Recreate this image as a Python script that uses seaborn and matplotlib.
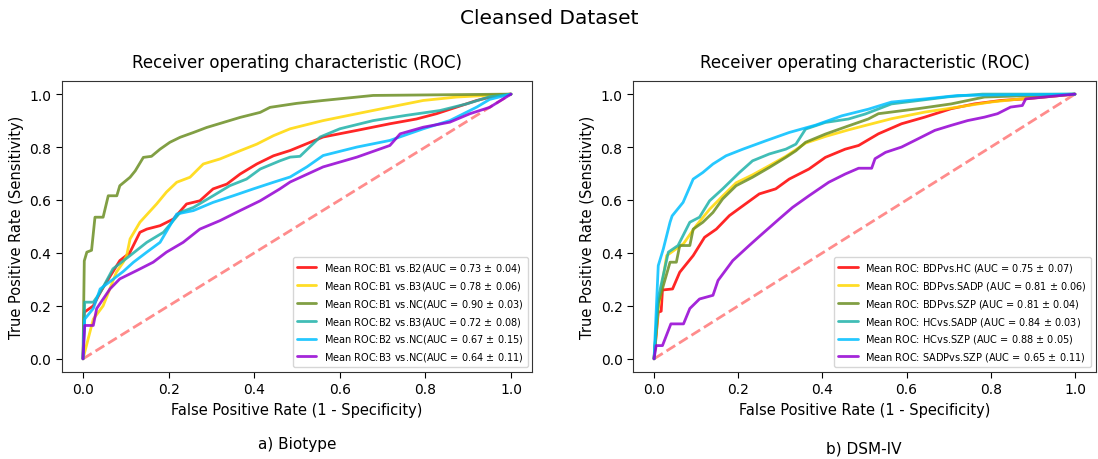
import numpy as np
import pandas as pd
import matplotlib
matplotlib.use("Agg")
import matplotlib.pyplot as plt
import seaborn as sns

# ---------------- data ----------------
# Panel a) Biotype
b_labels = ["Mean ROC:B1 vs.B2(AUC = 0.73 $\\pm$ 0.04)",
            "Mean ROC:B1 vs.B3(AUC = 0.78 $\\pm$ 0.06)",
            "Mean ROC:B1 vs.NC(AUC = 0.90 $\\pm$ 0.03)",
            "Mean ROC:B2 vs.B3(AUC = 0.72 $\\pm$ 0.08)",
            "Mean ROC:B2 vs.NC(AUC = 0.67 $\\pm$ 0.15)",
            "Mean ROC:B3 vs.NC(AUC = 0.64 $\\pm$ 0.11)"]

b1b2_fpr = [0, 0.003, 0.024, 0.04, 0.055, 0.086, 0.109, 0.133, 0.149, 0.18, 0.211, 0.242, 0.273, 0.304, 0.336, 0.367, 0.406, 0.445, 0.484, 0.561, 0.64, 0.717, 0.779, 0.826, 0.873, 0.92, 0.967, 1.0]
b1b2_tpr = [0, 0.176, 0.20, 0.25, 0.29, 0.371, 0.40, 0.478, 0.49, 0.503, 0.528, 0.585, 0.597, 0.642, 0.66, 0.698, 0.736, 0.767, 0.787, 0.838, 0.863, 0.888, 0.906, 0.926, 0.951, 0.976, 0.995, 1.0]

b1b3_fpr = [0, 0.016, 0.024, 0.047, 0.078, 0.094, 0.102, 0.11, 0.133, 0.172, 0.195, 0.219, 0.25, 0.281, 0.32, 0.367, 0.406, 0.445, 0.484, 0.561, 0.64, 0.717, 0.795, 0.873, 1.0]
b1b3_tpr = [0, 0.10, 0.15, 0.20, 0.327, 0.365, 0.39, 0.453, 0.516, 0.585, 0.63, 0.667, 0.686, 0.736, 0.755, 0.786, 0.811, 0.843, 0.869, 0.90, 0.926, 0.951, 0.976, 0.989, 1.0]

b1nc_fpr = [0, 0.003, 0.009, 0.02, 0.028, 0.047, 0.059, 0.079, 0.086, 0.11, 0.122, 0.141, 0.16, 0.18, 0.203, 0.227, 0.258, 0.289, 0.328, 0.367, 0.414, 0.437, 0.499, 0.561, 0.678, 1.0]
b1nc_tpr = [0, 0.37, 0.403, 0.41, 0.535, 0.535, 0.616, 0.616, 0.654, 0.686, 0.71, 0.761, 0.765, 0.792, 0.818, 0.837, 0.855, 0.874, 0.893, 0.912, 0.931, 0.95, 0.965, 0.976, 0.995, 1.0]

b2b3_fpr = [0, 0.004, 0.024, 0.04, 0.07, 0.11, 0.149, 0.188, 0.227, 0.258, 0.304, 0.343, 0.382, 0.414, 0.46, 0.484, 0.507, 0.554, 0.60, 0.678, 0.756, 0.834, 0.896, 0.95, 1.0]
b2b3_tpr = [0, 0.214, 0.214, 0.25, 0.34, 0.39, 0.44, 0.478, 0.553, 0.572, 0.616, 0.654, 0.679, 0.717, 0.748, 0.762, 0.765, 0.838, 0.869, 0.90, 0.92, 0.938, 0.963, 0.99, 1.0]

b2nc_fpr = [0, 0.004, 0.024, 0.04, 0.07, 0.094, 0.118, 0.149, 0.18, 0.219, 0.258, 0.304, 0.351, 0.398, 0.445, 0.484, 0.523, 0.561, 0.64, 0.717, 0.795, 0.857, 0.92, 0.95, 1.0]
b2nc_tpr = [0, 0.15, 0.19, 0.264, 0.30, 0.33, 0.365, 0.403, 0.44, 0.547, 0.56, 0.591, 0.616, 0.642, 0.667, 0.687, 0.725, 0.768, 0.80, 0.825, 0.869, 0.90, 0.951, 0.98, 1.0]

b3nc_fpr = [0, 0.004, 0.024, 0.032, 0.063, 0.086, 0.125, 0.164, 0.195, 0.234, 0.273, 0.32, 0.367, 0.414, 0.46, 0.484, 0.561, 0.64, 0.717, 0.741, 0.795, 0.857, 0.904, 0.95, 1.0]
b3nc_tpr = [0, 0.126, 0.126, 0.19, 0.264, 0.302, 0.333, 0.365, 0.403, 0.44, 0.49, 0.522, 0.56, 0.597, 0.642, 0.668, 0.725, 0.762, 0.806, 0.85, 0.875, 0.894, 0.926, 0.95, 1.0]

# Panel b) DSM-IV
d_labels = ["Mean ROC: BDPvs.HC (AUC = 0.75 $\\pm$ 0.07)",
            "Mean ROC: BDPvs.SADP (AUC = 0.81 $\\pm$ 0.06)",
            "Mean ROC: BDPvs.SZP (AUC = 0.81 $\\pm$ 0.04)",
            "Mean ROC: HCvs.SADP (AUC = 0.84 $\\pm$ 0.03)",
            "Mean ROC: HCvs.SZP (AUC = 0.88 $\\pm$ 0.05)",
            "Mean ROC: SADPvs.SZP (AUC = 0.65 $\\pm$ 0.11)"]

bdphc_fpr = [0, 0.01, 0.017, 0.02, 0.044, 0.061, 0.093, 0.12, 0.148, 0.179, 0.211, 0.25, 0.289, 0.321, 0.368, 0.407, 0.454, 0.486, 0.533, 0.588, 0.643, 0.706, 0.761, 0.824, 0.88, 1.0]
bdphc_tpr = [0, 0.176, 0.18, 0.26, 0.264, 0.327, 0.39, 0.459, 0.49, 0.541, 0.578, 0.623, 0.642, 0.679, 0.717, 0.761, 0.792, 0.806, 0.85, 0.888, 0.913, 0.945, 0.963, 0.976, 0.982, 1.0]

bdpsadp_fpr = [0, 0.01, 0.03, 0.07, 0.10, 0.132, 0.163, 0.195, 0.234, 0.274, 0.313, 0.337, 0.36, 0.407, 0.462, 0.486, 0.564, 0.643, 0.722, 0.80, 0.86, 1.0]
bdpsadp_tpr = [0, 0.19, 0.39, 0.435, 0.503, 0.565, 0.615, 0.665, 0.695, 0.73, 0.765, 0.79, 0.815, 0.84, 0.865, 0.875, 0.907, 0.932, 0.951, 0.97, 0.98, 1.0]

bdpszp_fpr = [0, 0.01, 0.038, 0.053, 0.061, 0.085, 0.093, 0.116, 0.14, 0.163, 0.195, 0.234, 0.274, 0.313, 0.337, 0.36, 0.407, 0.462, 0.509, 0.533, 0.627, 0.706, 0.785, 1.0]
bdpszp_tpr = [0, 0.21, 0.365, 0.365, 0.428, 0.428, 0.49, 0.516, 0.553, 0.604, 0.654, 0.686, 0.723, 0.761, 0.786, 0.818, 0.849, 0.88, 0.906, 0.926, 0.945, 0.963, 0.989, 1.0]

hcsadp_fpr = [0, 0.01, 0.034, 0.057, 0.085, 0.108, 0.132, 0.163, 0.203, 0.234, 0.274, 0.313, 0.337, 0.36, 0.407, 0.462, 0.502, 0.564, 0.70, 0.78, 1.0]
hcsadp_tpr = [0, 0.23, 0.403, 0.428, 0.516, 0.535, 0.597, 0.642, 0.704, 0.748, 0.774, 0.792, 0.811, 0.868, 0.893, 0.906, 0.925, 0.963, 0.99, 1.0, 1.0]

hcszp_fpr = [0, 0.01, 0.022, 0.038, 0.043, 0.069, 0.093, 0.116, 0.14, 0.171, 0.211, 0.266, 0.321, 0.384, 0.446, 0.509, 0.564, 0.643, 0.722, 1.0]
hcszp_tpr = [0, 0.352, 0.415, 0.516, 0.54, 0.591, 0.679, 0.704, 0.736, 0.767, 0.792, 0.824, 0.855, 0.883, 0.918, 0.943, 0.97, 0.982, 0.995, 1.0]

sadpszp_fpr = [0, 0.005, 0.02, 0.04, 0.07, 0.085, 0.108, 0.14, 0.152, 0.187, 0.226, 0.252, 0.297, 0.329, 0.368, 0.415, 0.454, 0.486, 0.517, 0.525, 0.55, 0.588, 0.627, 0.667, 0.706, 0.745, 0.785, 0.816, 0.847, 0.875, 0.883, 1.0]
sadpszp_tpr = [0, 0.05, 0.05, 0.132, 0.132, 0.19, 0.226, 0.24, 0.296, 0.371, 0.428, 0.465, 0.528, 0.572, 0.616, 0.667, 0.698, 0.72, 0.72, 0.756, 0.78, 0.80, 0.831, 0.863, 0.882, 0.90, 0.913, 0.926, 0.951, 0.957, 0.982, 1.0]

colors = ["red", "gold", "olivedrab", "lightseagreen", "deepskyblue", "darkviolet"]

b_curves = [(b1b2_fpr, b1b2_tpr), (b1b3_fpr, b1b3_tpr), (b1nc_fpr, b1nc_tpr),
            (b2b3_fpr, b2b3_tpr), (b2nc_fpr, b2nc_tpr), (b3nc_fpr, b3nc_tpr)]
d_curves = [(bdphc_fpr, bdphc_tpr), (bdpsadp_fpr, bdpsadp_tpr), (bdpszp_fpr, bdpszp_tpr),
            (hcsadp_fpr, hcsadp_tpr), (hcszp_fpr, hcszp_tpr), (sadpszp_fpr, sadpszp_tpr)]

# ---------------- plotting ----------------
sns.set_style("ticks")
plt.rcParams["font.family"] = ["DejaVu Sans"]
plt.rcParams.update({"text.color": "black", "axes.labelcolor": "black",
                     "xtick.color": "black", "ytick.color": "black",
                     "axes.edgecolor": "black"})

fig = plt.figure(figsize=(10.98, 4.60), dpi=100)
ax1 = fig.add_axes([0.0561, 0.189, 0.4288, 0.633])
ax2 = fig.add_axes([0.5765, 0.189, 0.4217, 0.633])


def draw(ax, curves, labels):
    ax.plot([0, 1], [0, 1], linestyle="--", lw=2, color="r", alpha=0.45)
    for (fpr, tpr), lab, col in zip(curves, labels, colors):
        sns.lineplot(x=fpr, y=tpr, color=col, lw=2, alpha=0.85, label=lab,
                     estimator=None, sort=False, ax=ax)
    ax.set_xlim(-0.05, 1.05)
    ax.set_ylim(-0.05, 1.05)
    ax.set_xticks([0, 0.2, 0.4, 0.6, 0.8, 1.0])
    ax.set_yticks([0, 0.2, 0.4, 0.6, 0.8, 1.0])
    ax.tick_params(labelsize=10, length=4)
    for s in ax.spines.values():
        s.set_visible(True)
        s.set_color("#333333")
    ax.set_xlabel("False Positive Rate (1 - Specificity)", fontsize=10.5)
    ax.set_ylabel("True Positive Rate (Sensitivity)", fontsize=10.5)
    ax.set_title("Receiver operating characteristic (ROC)", fontsize=12, pad=10)
    ax.legend(loc="lower right", fontsize=7, frameon=True, handlelength=2)


draw(ax1, b_curves, b_labels)
draw(ax2, d_curves, d_labels)
fig.text(297 / 1098, 1 - 445 / 460, "a) Biotype", ha="center", va="center", fontsize=11)
fig.text(864 / 1098, 1 - 449 / 460, "b) DSM-IV", ha="center", va="center", fontsize=11)
fig.text(0.5, 1 - 18 / 460, "Cleansed Dataset", ha="center", va="center", fontsize=14.5)

fig.savefig("out.png", dpi=100)
